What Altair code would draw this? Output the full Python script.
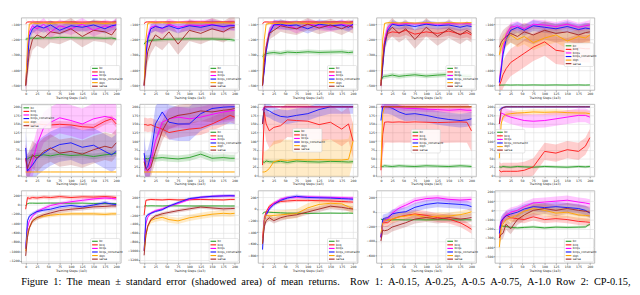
import altair as alt
import pandas as pd

# ---------------- data ----------------
X = [0, 4, 8, 15, 25, 40, 55, 75, 100, 125, 150, 175, 190, 200]
SERIES = ["bc", "bcq", "bcqs", "bcqs_constraint", "dqn", "sarsa"]
COLORS = ["#2ca02c", "#ff1f1f", "#ff00ff", "#1717ff", "#ffa500", "#a52a2a"]

# Row 1: A-0.15 ... A-1.0
P1 = {
    "bc": [-198, -195, -192, -190, -192, -188, -190, -186, -188, -190, -189, -192, -190, -196],
    "bcq": [-96, -86, -85, -86, -85, -86, -85, -86, -85, -86, -85, -85, -86, -85],
    "bcqs": [-500, -300, -150, -110, -130, -100, -150, -110, -130, -100, -140, -110, -120, -100],
    "bcqs_constraint": [-500, -350, -180, -130, -110, -125, -105, -140, -110, -120, -105, -130, -110, -105],
    "dqn": [-500, -250, -100, -92, -95, -92, -95, -90, -93, -95, -92, -95, -93, -92],
    "sarsa": [-500, -400, -280, -200, -170, -190, -150, -160, -130, -180, -140, -150, -170, -130],
}
B1 = {"bc": 10, "bcq": 4, "bcqs": 40, "bcqs_constraint": 30, "dqn": 8, "sarsa": 70}

P2 = {
    "bc": [-230, -215, -210, -205, -203, -200, -198, -197, -195, -196, -196, -198, -200, -205],
    "bcq": [-96, -86, -85, -85, -86, -85, -85, -86, -85, -85, -86, -85, -85, -86],
    "bcqs": [-500, -320, -180, -120, -110, -130, -100, -120, -105, -110, -100, -120, -105, -110],
    "bcqs_constraint": [-500, -300, -200, -130, -115, -125, -110, -130, -110, -120, -105, -115, -110, -110],
    "dqn": [-500, -200, -95, -90, -92, -90, -93, -90, -92, -90, -92, -90, -93, -90],
    "sarsa": [-500, -380, -280, -220, -170, -200, -150, -230, -140, -160, -130, -150, -125, -120],
}
B2 = {"bc": 12, "bcq": 4, "bcqs": 35, "bcqs_constraint": 30, "dqn": 8, "sarsa": 70}

P3 = {
    "bc": [-310, -300, -292, -288, -285, -290, -282, -285, -280, -284, -282, -280, -285, -282],
    "bcq": [-96, -86, -85, -86, -85, -85, -86, -85, -85, -86, -85, -85, -86, -85],
    "bcqs": [-500, -380, -250, -150, -100, -110, -105, -130, -100, -110, -120, -100, -110, -105],
    "bcqs_constraint": [-500, -400, -280, -160, -105, -100, -110, -105, -130, -100, -110, -105, -120, -100],
    "dqn": [-500, -200, -100, -95, -95, -93, -95, -92, -95, -93, -95, -92, -94, -93],
    "sarsa": [-500, -350, -250, -160, -140, -110, -120, -130, -100, -125, -105, -130, -110, -120],
}
B3 = {"bc": 15, "bcq": 4, "bcqs": 30, "bcqs_constraint": 30, "dqn": 8, "sarsa": 40}

P4 = {
    "bc": [-470, -445, -440, -438, -432, -440, -435, -430, -438, -432, -428, -436, -440, -440],
    "bcq": [-500, -330, -220, -160, -150, -155, -140, -165, -150, -160, -145, -165, -155, -170],
    "bcqs": [-500, -350, -200, -120, -95, -100, -95, -98, -95, -100, -96, -98, -95, -100],
    "bcqs_constraint": [-500, -380, -250, -140, -100, -110, -105, -115, -100, -110, -105, -120, -110, -115],
    "dqn": [-500, -200, -95, -90, -90, -92, -90, -93, -90, -92, -90, -92, -91, -90],
    "sarsa": [-500, -350, -220, -150, -120, -160, -130, -200, -120, -180, -130, -170, -140, -160],
}
B4 = {"bc": 15, "bcq": 30, "bcqs": 10, "bcqs_constraint": 25, "dqn": 5, "sarsa": 60}

P5 = {
    "bc": [-498, -497, -497, -496, -497, -496, -497, -496, -497, -496, -497, -496, -497, -496],
    "bcq": [-500, -470, -430, -390, -350, -320, -290, -250, -215, -270, -280, -255, -260, -260],
    "bcqs": [-480, -380, -260, -170, -120, -110, -130, -100, -105, -115, -100, -120, -110, -105],
    "bcqs_constraint": [-480, -400, -300, -200, -140, -120, -140, -110, -120, -130, -115, -135, -125, -130],
    "dqn": [-300, -250, -220, -200, -170, -200, -180, -220, -190, -170, -210, -180, -190, -170],
    "sarsa": [-250, -220, -200, -180, -160, -180, -150, -170, -140, -160, -150, -170, -155, -150],
}
B5 = {"bc": 3, "bcq": 90, "bcqs": 30, "bcqs_constraint": 35, "dqn": 50, "sarsa": 60}

# Row 2: CP-0.15 ... CP-1.0
P6 = {
    "bc": [50, 48, 52, 55, 58, 60, 57, 62, 58, 60, 55, 60, 62, 65],
    "bcq": [148, 147, 148, 147, 150, 148, 147, 149, 147, 142, 140, 158, 165, 150],
    "bcqs": [50, 10, 12, 40, 90, 140, 155, 168, 160, 150, 165, 172, 168, 162],
    "bcqs_constraint": [80, 12, 20, 30, 50, 65, 78, 90, 95, 82, 88, 70, 60, 70],
    "dqn": [10, 10, 10, 10, 10, 10, 10, 10, 10, 10, 10, 10, 10, 10],
    "sarsa": [50, 20, 35, 60, 50, 70, 80, 65, 70, 62, 75, 85, 80, 95],
}
B6 = {"bc": 8, "bcq": 10, "bcqs": 45, "bcqs_constraint": 50, "dqn": 1, "sarsa": 40}

P7 = {
    "bc": [45, 50, 48, 52, 50, 52, 50, 48, 52, 62, 50, 52, 50, 50],
    "bcq": [148, 148, 146, 148, 142, 135, 125, 130, 135, 138, 150, 165, 175, 170],
    "bcqs": [50, 15, 10, 40, 100, 155, 165, 170, 165, 170, 178, 185, 188, 190],
    "bcqs_constraint": [65, 20, 25, 60, 150, 185, 155, 150, 150, 180, 195, 199, 200, 200],
    "dqn": [10, 10, 10, 10, 10, 10, 10, 10, 10, 10, 10, 10, 10, 10],
    "sarsa": [40, 20, 15, 25, 70, 130, 165, 175, 180, 188, 185, 190, 192, 195],
}
B7 = {"bc": 10, "bcq": 20, "bcqs": 30, "bcqs_constraint": 50, "dqn": 1, "sarsa": 30}

P8 = {
    "bc": [40, 38, 42, 40, 39, 41, 38, 42, 40, 39, 41, 40, 39, 40],
    "bcq": [30, 185, 150, 130, 140, 145, 162, 160, 158, 148, 155, 135, 150, 100],
    "bcqs": [190, 200, 200, 200, 200, 200, 200, 200, 200, 200, 200, 200, 200, 200],
    "bcqs_constraint": [150, 197, 192, 188, 180, 172, 170, 175, 180, 192, 200, 200, 200, 200],
    "dqn": [10, 10, 12, 20, 40, 45, 44, 46, 45, 46, 45, 45, 47, 100],
    "sarsa": [150, 200, 200, 200, 200, 200, 200, 200, 200, 200, 200, 200, 200, 200],
}
B8 = {"bc": 6, "bcq": 50, "bcqs": 2, "bcqs_constraint": 20, "dqn": 60, "sarsa": 1}

P9 = {
    "bc": [27, 26, 28, 27, 26, 28, 27, 26, 28, 27, 26, 28, 27, 26],
    "bcq": [15, 120, 155, 156, 155, 156, 155, 156, 155, 154, 155, 156, 155, 130],
    "bcqs": [200, 200, 200, 200, 199, 198, 196, 195, 193, 192, 190, 192, 190, 190],
    "bcqs_constraint": [160, 200, 200, 200, 196, 185, 178, 180, 175, 168, 163, 160, 162, 165],
    "dqn": [25, 180, 200, 200, 200, 200, 200, 200, 200, 200, 200, 200, 200, 200],
    "sarsa": [200, 200, 200, 200, 200, 200, 200, 200, 200, 200, 200, 200, 200, 200],
}
B9 = {"bc": 5, "bcq": 60, "bcqs": 8, "bcqs_constraint": 20, "dqn": 2, "sarsa": 1}

P10 = {
    "bc": [25, 24, 26, 25, 24, 26, 25, 24, 26, 25, 24, 26, 25, 26],
    "bcq": [15, 10, 12, 12, 12, 12, 15, 25, 70, 65, 75, 70, 85, 110],
    "bcqs": [150, 182, 180, 175, 170, 165, 160, 158, 160, 165, 170, 175, 175, 170],
    "bcqs_constraint": [190, 195, 198, 200, 200, 200, 200, 200, 200, 200, 200, 200, 200, 200],
    "dqn": [50, 150, 170, 178, 180, 182, 183, 185, 184, 185, 183, 182, 182, 180],
    "sarsa": [150, 192, 198, 200, 200, 200, 200, 200, 200, 200, 200, 200, 200, 200],
}
B10 = {"bc": 4, "bcq": 25, "bcqs": 20, "bcqs_constraint": 3, "dqn": 8, "sarsa": 2}

# Row 3
P11 = {
    "bc": [-30, 20, 30, 30, 28, 30, 32, 30, 28, 30, 25, 22, 22, 20],
    "bcq": [-100, 150, 130, 150, 140, 160, 150, 170, 150, 165, 160, 170, 160, 150],
    "bcqs": [-950, -500, -350, -250, -150, -80, -20, 20, 60, 90, 120, 140, 130, 120],
    "bcqs_constraint": [-950, -350, -250, -200, -150, -120, -100, -50, -20, -50, -10, 40, 10, 0],
    "dqn": [-1000, -600, -500, -350, -280, -250, -230, -210, -200, -200, -200, -210, -200, -200],
    "sarsa": [-1100, -700, -500, -350, -280, -220, -180, -130, -100, -80, -50, -40, -30, -30],
}
B11 = {"bc": 10, "bcq": 40, "bcqs": 40, "bcqs_constraint": 40, "dqn": 40, "sarsa": 50}

P12 = {
    "bc": [0, 10, 5, 8, 6, 5, 8, 6, 5, 4, 6, 5, 4, 5],
    "bcq": [-200, 130, 140, 150, 145, 140, 150, 140, 145, 150, 145, 140, 150, 150],
    "bcqs": [-1000, -400, -250, -150, -100, -60, 0, 60, 150, 200, 220, 230, 230, 230],
    "bcqs_constraint": [-1000, -250, -190, -160, -120, -80, 0, 80, 170, 200, 220, 230, 235, 230],
    "dqn": [-1000, -650, -450, -320, -280, -250, -300, -330, -260, -220, -180, -160, -170, -160],
    "sarsa": [-1100, -650, -450, -300, -220, -170, -140, -100, -60, -20, -40, -60, -55, -50],
}
B12 = {"bc": 10, "bcq": 25, "bcqs": 30, "bcqs_constraint": 30, "dqn": 70, "sarsa": 40}

P13 = {
    "bc": [-80, -55, -50, -55, -60, -65, -70, -72, -75, -72, -70, -72, -70, -72],
    "bcq": [-500, -150, -50, 50, 100, 130, 140, 150, 150, 145, 140, 130, 125, 120],
    "bcqs": [-600, -200, -100, 20, 100, 170, 200, 205, 210, 205, 200, 195, 190, 190],
    "bcqs_constraint": [-700, -200, -100, 0, 80, 150, 190, 220, 200, 195, 190, 180, 175, 170],
    "dqn": [-600, -200, -100, -120, -110, -100, -90, -80, 20, 80, 100, 90, 40, 0],
    "sarsa": [-600, -300, -200, -150, -200, -150, -120, -100, -50, 0, 50, 30, 10, 0],
}
B13 = {"bc": 10, "bcq": 30, "bcqs": 30, "bcqs_constraint": 30, "dqn": 80, "sarsa": 50}

P14 = {
    "bc": [-100, -110, -112, -110, -112, -110, -113, -110, -112, -110, -111, -112, -110, -112],
    "bcq": [-350, -150, -150, -150, -100, -70, -50, -30, -50, -80, -100, -150, -200, -240],
    "bcqs": [-350, -150, -120, -100, -20, 50, 90, 150, 180, 190, 170, 160, 165, 170],
    "bcqs_constraint": [-350, -100, -90, -80, -30, -10, 0, 60, 100, 120, 110, 100, 90, 70],
    "dqn": [-300, -150, -130, -110, -100, -70, -60, -40, -80, -60, -60, -40, -20, 0],
    "sarsa": [-400, -250, -260, -250, -210, -180, -150, -100, -80, -100, -80, -100, -90, -80],
}
B14 = {"bc": 8, "bcq": 60, "bcqs": 40, "bcqs_constraint": 60, "dqn": 50, "sarsa": 60}

P15 = {
    "bc": [-180, -170, -172, -175, -185, -190, -185, -180, -190, -182, -185, -182, -180, -150],
    "bcq": [-300, -150, -100, -50, -80, -90, -100, -70, -100, -90, -100, -120, -125, -130],
    "bcqs": [-200, -120, -90, -50, -20, 0, 40, 80, 90, 100, 110, 90, 80, 70],
    "bcqs_constraint": [-250, -120, -90, -60, -40, -20, 15, 40, 30, 40, 30, 20, 0, -30],
    "dqn": [-400, -200, -150, -100, -80, -50, -10, 20, 0, -30, -20, -50, -55, -60],
    "sarsa": [-300, -260, -250, -150, -200, -100, -50, 0, 20, 0, 20, 0, -10, -20],
}
B15 = {"bc": 15, "bcq": 40, "bcqs": 50, "bcqs_constraint": 50, "dqn": 60, "sarsa": 60}

ACRO_DOMAIN = [-529, -57]
ACRO_TICKS = [-100, -200, -300, -400, -500]
CP_DOMAIN = [-3, 208]
CP_TICKS = [0, 25, 50, 75, 100, 125, 150, 175, 200]
X_TICKS = [0, 25, 50, 75, 100, 125, 150, 175, 200]

CAPTION_WORDS = ["Figure", "1:", "The", "mean", "\u00b1", "standard", "error", "(shadowed",
                 "area)", "of", "mean", "returns.", "", "Row", "1:", "A-0.15,", "A-0.25,",
                 "A-0.5", "A-0.75,", "A-1.0", "Row", "2:", "CP-0.15,"]
CAPTION = "\u2002".join(CAPTION_WORDS)

# ---------------- layout ----------------
PW, PH = 106, 77
FONT = "DejaVu Sans"
LW, LH = 31, 25   # legend box size (px)
ROW_H = 3.8       # legend row pitch (px)

PANELS = [
    (P1, B1, ACRO_DOMAIN, ACRO_TICKS, (74, 51)),
    (P2, B2, ACRO_DOMAIN, ACRO_TICKS, (74, 51)),
    (P3, B3, ACRO_DOMAIN, ACRO_TICKS, (74, 51)),
    (P4, B4, ACRO_DOMAIN, ACRO_TICKS, (74, 51)),
    (P5, B5, ACRO_DOMAIN, ACRO_TICKS, (74, 27)),
    (P6, B6, CP_DOMAIN, CP_TICKS, (1, 1)),
    (P7, B7, CP_DOMAIN, CP_TICKS, (74, 27)),
    (P8, B8, CP_DOMAIN, CP_TICKS, (37, 26)),
    (P9, B9, CP_DOMAIN, CP_TICKS, (37, 27)),
    (P10, B10, CP_DOMAIN, CP_TICKS, (1, 27)),
    (P11, B11, [-1250, 300], [200, 0, -200, -400, -600, -800, -1000, -1200], (74, 51)),
    (P12, B12, [-1270, 350], [200, 0, -200, -400, -600, -800, -1000, -1200], (74, 51)),
    (P13, B13, [-930, 320], [200, 0, -200, -400, -600, -800], (74, 51)),
    (P14, B14, [-700, 290], [200, 0, -200, -400, -600], (74, 51)),
    (P15, B15, [-570, 215], [200, 100, 0, -100, -200, -300, -400, -500], (74, 51)),
]


def panel(data, bands, ydom, yticks, legxy):
    recs = []
    for s in SERIES:
        for x, v in zip(X, data[s]):
            recs.append({"step": x, "value": v, "lo": v - bands[s], "hi": v + bands[s], "algo": s})
    df = pd.DataFrame(recs)
    xenc = alt.X("step:Q", scale=alt.Scale(domain=[-10, 210], nice=False),
                 axis=alt.Axis(values=X_TICKS, title="Training Steps (1e3)"))
    yscale = alt.Scale(domain=ydom, nice=False, zero=False)
    cscale = alt.Scale(domain=SERIES, range=COLORS)
    base = alt.Chart(df)
    band = base.mark_area(opacity=0.22, clip=True).encode(
        x=xenc,
        y=alt.Y("lo:Q", scale=yscale, axis=alt.Axis(values=yticks, format="d", title=None)),
        y2="hi:Q",
        color=alt.Color("algo:N", scale=cscale, legend=None),
    )
    line = base.mark_line(strokeWidth=1, clip=True).encode(
        x=xenc,
        y=alt.Y("value:Q", scale=yscale, axis=None),
        color=alt.Color("algo:N", scale=cscale, legend=None),
    )
    # legend drawn as marks inside the panel (pixel layout of the legend box)
    lx, ly = legxy
    leg_df = pd.DataFrame({"algo": SERIES,
                           "py": [ly + 3 + i * ROW_H for i in range(len(SERIES))]})
    box = alt.Chart(pd.DataFrame({"k": [0]})).mark_rect(
        fill="white", fillOpacity=0.85, stroke="#cccccc", strokeWidth=0.5, cornerRadius=1
    ).encode(x=alt.value(lx), x2=alt.value(lx + LW), y=alt.value(ly), y2=alt.value(ly + LH))
    lyenc = alt.Y("py:Q", scale=alt.Scale(domain=[0, PH], range=[0, PH], nice=False, zero=False),
                  axis=None)
    sym = alt.Chart(leg_df).mark_rule(strokeWidth=1.2).encode(
        x=alt.value(lx + 1.5), x2=alt.value(lx + 7.5), y=lyenc,
        color=alt.Color("algo:N", scale=cscale, legend=None))
    lab = alt.Chart(leg_df).mark_text(align="left", baseline="middle", fontSize=3.2, font=FONT,
                                      color="#222222").encode(
        x=alt.value(lx + 9), y=lyenc, text="algo:N")
    return alt.layer(band, line, box, sym, lab).resolve_scale(y="independent").properties(
        width=PW, height=PH)


grid = alt.concat(*[panel(*p) for p in PANELS], columns=5,
                  spacing={"row": 15, "column": 20}, bounds="flush")
grid = grid.resolve_scale(y="independent")

caption = alt.Chart(pd.DataFrame({"t": [CAPTION]})).mark_text(
    align="left", baseline="alphabetic", font="Liberation Serif", fontSize=11, color="black"
).encode(x=alt.value(0), y=alt.value(12), text="t:N").properties(
    width=600, height=14, view=alt.ViewBackground(stroke="transparent"))

chart = alt.vconcat(grid, caption, spacing=0).properties(
    padding={"left": 0, "top": 0, "right": 0, "bottom": 0}
).configure_view(stroke="#aaaaaa", strokeWidth=0.8).configure_axis(
    labelFont=FONT, titleFont=FONT, labelFontSize=3.3, titleFontSize=3.3,
    titleFontWeight="normal", labelPadding=0.5, titlePadding=0.5, tickSize=1.5,
    tickWidth=0.5, tickColor="#444444", labelColor="#222222", titleColor="#222222",
    domain=False, grid=True, gridColor="#dddddd", gridWidth=0.6
)

chart.save("out.html", embed_options={"renderer": "svg", "actions": False})
